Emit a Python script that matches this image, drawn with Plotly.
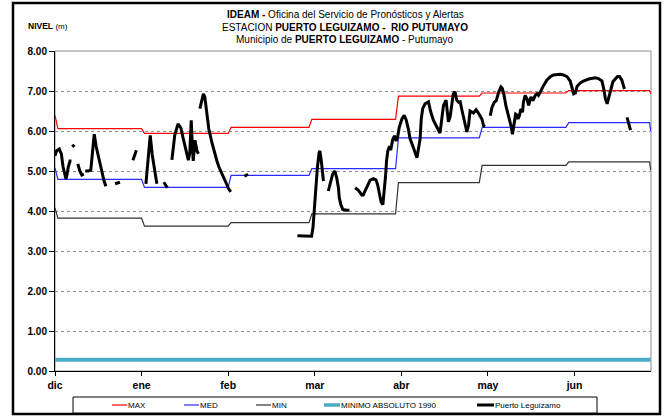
import plotly.graph_objects as go

# ---------------- data ----------------
months = ["dic", "ene", "feb", "mar", "abr", "may", "jun"]
month_days = [0, 30, 60, 90, 120, 150, 180]

# monthly reference levels (day index along the axis, level in m)
step_days = [0, 1, 30, 31, 60, 61, 88, 89, 118, 119, 147, 148, 177, 178, 206, 206.4]
max_level = [6.39, 6.06, 6.06, 5.94, 5.94, 6.09, 6.09, 6.29, 6.29, 6.87, 6.87, 6.95, 6.95, 7.01, 7.01, 6.93]
med_level = [5.08, 4.79, 4.79, 4.59, 4.59, 4.89, 4.89, 5.06, 5.06, 5.83, 5.83, 6.09, 6.09, 6.21, 6.21, 6.00]
min_level = [4.08, 3.82, 3.82, 3.62, 3.62, 3.71, 3.71, 3.93, 3.93, 4.71, 4.71, 5.14, 5.14, 5.23, 5.23, 5.02]

abs_min_days = [0, 206.4]
abs_min_level = [0.28, 0.28]

# observed levels Puerto Leguízamo (None = no data)
obs_days = [
    0, 0.5, 1.5, 2.2, 2.8, 3.4, 3.8, 4.2, 4.6, 5.2, 5.7, None,
    6.0, 6.7, None,
    7.9, 8.6, 9.3, 10.0, None,
    10.5, 11.5, 12.4, 12.9, 13.6, 14.3, 15.2, 16.0, 16.9, 17.6, None,
    20.8, 22.5, None,
    27.0, 28.2, None,
    31.5, 32.2, 33.0, 33.7, 34.6, 35.3, None,
    37.7, 38.9, None,
    40.5, 41.5, 42.6, 43.6, 44.3, 45.0, 45.7, 46.2, 46.7, 47.2, 47.6, 47.9, 48.5, 49.2, 49.7, None,
    50.2, 51.4, 51.9, 52.6, 53.3, 54.4, 55.2, 56.1, 56.8, 57.8, 58.7, 59.6, 60.1, 60.9, None,
    65.6, 66.9, None,
    84.0, 86.6, 88.9, 89.4, 89.7, 90.4, 90.9, 91.5, 91.8, 92.4, 92.7, 93.0, None,
    94.7, 95.5, 96.2, 97.0, 97.6, 98.2, 98.5, 99.0, 99.7, 101.1, 102.0, None,
    104.0, 105.1, 106.3, 106.8, 107.4, 108.4, 109.2, 110.3, 111.2, 111.8, 112.4, 113.0, 113.6,
    114.0, 114.5, 114.9, 115.3, 115.9, 116.3, 117.0, 117.6, 118.2, 118.7, 119.3, 120.2, 121.0,
    121.7, 122.4, 123.0, 124.0, 124.8, 125.4, 125.8, 126.5, 126.9, 127.4, 128.2, 129.4, 130.1,
    131.1, 132.3, 133.4, 134.6, 135.5, 135.9, 136.3, 136.9, 137.5, 138.0, 138.6, 139.2, 139.9,
    140.4, 141.0, 142.1, 142.7, 143.3, 143.8, 145.0, 145.9, 146.7, 147.3, 147.9, 148.5, 149.0, None,
    150.8, 151.4, 152.2, 152.9, 153.7, 154.5, 155.0, 155.6, 156.2, 156.8, 157.5, 158.0, 158.5,
    159.2, 159.6, 160.0, 160.4, 160.9, 161.4, 162.0, 162.3, 162.9, 163.5, 164.1, 164.9, 165.6,
    166.4, 167.0, 167.5, 168.1, 168.7, 169.3, 170.4, 171.6, 172.7, 173.9, 175.0, 176.2, 177.4,
    178.5, 179.1, 179.7, 180.3, 180.9, 182.0, 183.1, 184.9, 187.2, 188.3, 189.5, 190.1, 190.7,
    191.3, 191.8, 192.4, 193.3, 194.1, 194.9, 195.6, 196.4, 197.0, 197.3, None,
    198.2, 198.8, 199.4,
]
obs_level = [
    5.38, 5.50, 5.55, 5.43, 5.10, 4.87, 4.80, 4.92, 5.10, 5.25, 5.25, None,
    5.66, 5.60, None,
    5.18, 5.00, 4.90, 4.92, None,
    5.00, 5.00, 5.02, 5.45, 5.92, 5.60, 5.30, 5.05, 4.78, 4.62, None,
    4.68, 4.72, None,
    5.27, 5.52, None,
    4.68, 5.30, 5.89, 5.40, 5.00, 4.68, None,
    4.72, 4.58, None,
    5.28, 5.90, 6.18, 6.08, 5.85, 5.62, 5.43, 5.27, 5.45, 6.27, 5.60, 5.25, 5.77, 5.50, 5.43, None,
    6.56, 6.93, 6.85, 6.50, 6.05, 5.70, 5.45, 5.25, 5.10, 4.95, 4.80, 4.65, 4.56, 4.48, None,
    4.87, 4.92, None,
    3.38, 3.37, 3.37, 3.60, 3.92, 4.50, 5.08, 5.46, 5.50, 5.17, 4.83, 4.75, None,
    4.50, 4.75, 4.92, 5.00, 4.83, 4.58, 4.33, 4.17, 4.04, 4.02, 4.02, None,
    4.58, 4.52, 4.40, 4.40, 4.50, 4.65, 4.77, 4.81, 4.78, 4.65, 4.42, 4.22, 4.16,
    4.40, 4.85, 5.27, 5.50, 5.62, 5.52, 5.78, 5.88, 5.75, 5.85, 6.10, 6.30, 6.39,
    6.27, 6.06, 5.81, 5.62, 5.48, 5.33, 5.50, 5.80, 6.30, 6.56, 6.68, 6.73, 6.50,
    6.27, 6.10, 5.95, 6.64, 6.77, 6.50, 6.23, 6.35, 6.68, 6.93, 6.98, 6.77, 6.72,
    6.73, 6.52, 6.14, 5.98, 6.15, 6.50, 6.45, 6.53, 6.45, 6.38, 6.30, 6.13, 6.11, None,
    6.38, 6.59, 6.72, 6.76, 6.97, 7.10, 7.06, 6.89, 6.64, 6.47, 6.34, 6.13, 5.92,
    6.21, 6.42, 6.40, 6.30, 6.38, 6.55, 6.47, 6.72, 6.89, 6.81, 6.64, 6.85, 6.76,
    6.89, 6.93, 6.89, 6.97, 7.06, 7.14, 7.27, 7.36, 7.40, 7.42, 7.42, 7.40, 7.36,
    7.25, 7.05, 6.93, 6.95, 7.12, 7.20, 7.25, 7.30, 7.33, 7.31, 7.25, 7.06, 6.81,
    6.68, 6.82, 7.02, 7.23, 7.30, 7.36, 7.36, 7.27, 7.12, 7.05, None,
    6.34, 6.17, 6.02,
]

series_names = ["MAX", "MED", "MIN", "MINIMO ABSOLUTO 1990", "Puerto Leguízamo"]
series_colors = ["#FF0000", "#2A2AFF", "#333333", "#4BACC6", "#000000"]
series_widths = [1.2, 1.2, 1.2, 4, 3]

# ---------------- figure ----------------
W, H = 665, 416
L, R, T, B = 55, 14, 51, 45
PW, PH = W - L - R, H - T - B


def px2x(px):
    return (px - L) / PW


def py2y(py):
    return (H - B - py) / PH


FONT = "Arial, 'Liberation Sans', sans-serif"

fig = go.Figure()
xs = [step_days, step_days, step_days, abs_min_days, obs_days]
ys = [max_level, med_level, min_level, abs_min_level, obs_level]
for name, color, width, x, y in zip(series_names, series_colors, series_widths, xs, ys):
    fig.add_trace(go.Scatter(
        x=x, y=y, name=name, mode="lines",
        line=dict(color=color, width=width),
        connectgaps=False, showlegend=False,
    ))

shapes = []
# plot-area grey border
shapes.append(dict(type="rect", xref="paper", yref="paper", x0=0, x1=1, y0=0, y1=1,
                   line=dict(color="#8C8C8C", width=1), layer="below"))
# outer chart frame
shapes.append(dict(type="rect", xref="paper", yref="paper",
                   x0=px2x(13), x1=px2x(660), y0=py2y(414), y1=py2y(3),
                   line=dict(color="#000000", width=2.5)))
# legend box
shapes.append(dict(type="rect", xref="paper", yref="paper",
                   x0=px2x(73), x1=px2x(597), y0=py2y(413), y1=py2y(397),
                   line=dict(color="#000000", width=1), fillcolor="white"))

annotations = []
leg_line_px = [(112, 127), (184, 199), (256, 271), (324, 340), (477, 494)]
leg_y = py2y(405)
for (a, b), name, color, width in zip(leg_line_px, series_names, series_colors, series_widths):
    shapes.append(dict(type="line", xref="paper", yref="paper",
                       x0=px2x(a), x1=px2x(b), y0=leg_y, y1=leg_y,
                       line=dict(color=color, width=min(width, 3.5))))
    annotations.append(dict(xref="paper", yref="paper", x=px2x(b), y=leg_y,
                            text=name, showarrow=False, xanchor="left", yanchor="middle",
                            xshift=-1, font=dict(family=FONT, size=8, color="black")))

# titles
title_lines = [
    "<b>IDEAM -</b> Oficina del Servicio de Pronósticos y Alertas",
    "ESTACION <b>PUERTO LEGUIZAMO -  RIO PUTUMAYO</b>",
    "Municipio de <b>PUERTO LEGUIZAMO</b> - Putumayo",
]
for text, py in zip(title_lines, [14.5, 27.5, 40]):
    annotations.append(dict(xref="paper", yref="paper", x=px2x(345), y=py2y(py),
                            text=text, showarrow=False, xanchor="center", yanchor="middle",
                            font=dict(family=FONT, size=10, color="black")))
annotations.append(dict(xref="paper", yref="paper", x=px2x(26), y=py2y(26),
                        text="<b>NIVEL</b> <span style='font-size:8px'>(m)</span>",
                        showarrow=False, xanchor="left", yanchor="middle",
                        font=dict(family=FONT, size=8.5, color="black")))

fig.update_layout(
    width=W, height=H,
    margin=dict(l=L, r=R, t=T, b=B, pad=0),
    paper_bgcolor="white", plot_bgcolor="white",
    showlegend=False,
    shapes=shapes, annotations=annotations,
    font=dict(family=FONT, color="black"),
    xaxis=dict(
        range=[0, 206.5], tickmode="array", tickvals=month_days, ticktext=months,
        showgrid=False, zeroline=False, showline=True, linecolor="black", linewidth=1,
        ticks="outside", ticklen=4, tickcolor="black",
        tickfont=dict(family=FONT, size=10.5, color="black", weight="bold"),
        fixedrange=True,
    ),
    yaxis=dict(
        range=[0, 8], dtick=1, tickformat=".2f",
        showgrid=True, gridcolor="#8C8C8C", griddash="dot", gridwidth=1,
        zeroline=False, showline=True, linecolor="black", linewidth=1,
        ticks="outside", ticklen=5, tickcolor="black",
        tickfont=dict(family=FONT, size=10, color="black", weight="bold"),
        fixedrange=True,
    ),
)

fig.write_html(
    "out.html",
    config={"displayModeBar": False},
    post_script="document.body.style.margin='0';document.body.style.padding='0';",
)
